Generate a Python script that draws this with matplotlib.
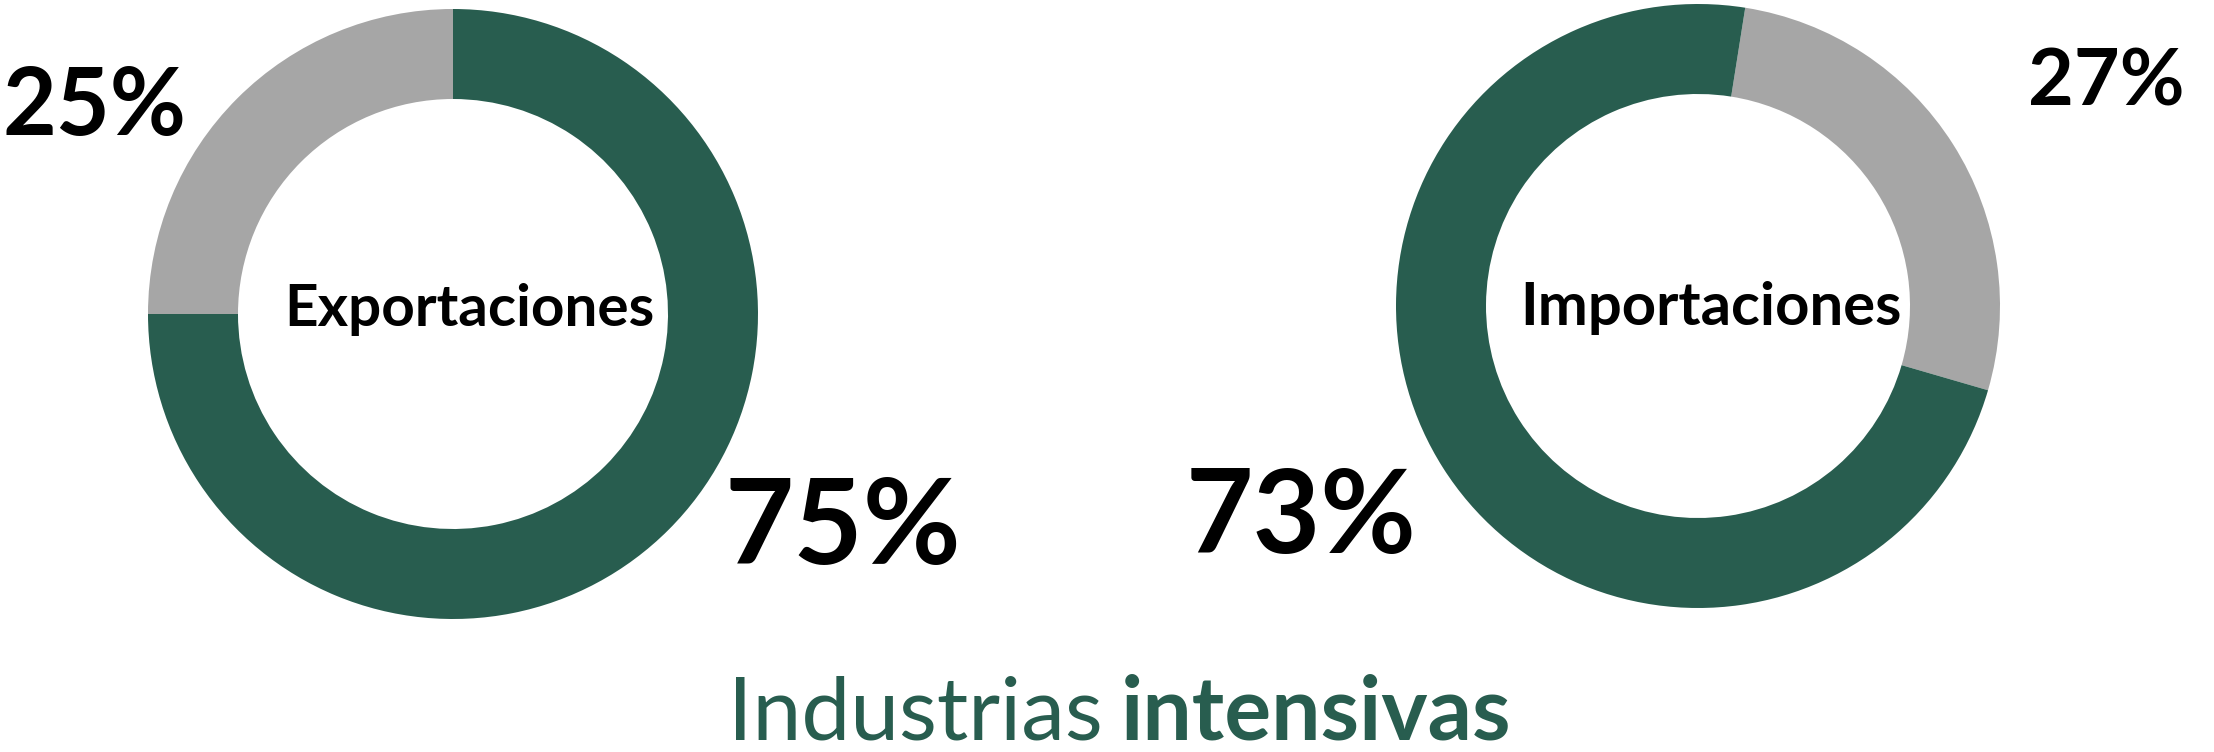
import matplotlib.pyplot as plt

# shares (percent)
export_labels = ["Intensivas", "Resto"]
export_shares = [75, 25]
import_labels = ["Resto", "Intensivas"]
import_shares = [27, 73]

GREEN = "#285d4f"
GRAY = "#a6a6a6"
FONT = ["Lato", "DejaVu Sans"]

W, H = 2214, 752
fig = plt.figure(figsize=(W / 100, H / 100), dpi=100)
ax = fig.add_axes([0, 0, 1, 1])

# left ring: exportaciones
ax.pie(export_shares, colors=[GREEN, GRAY], startangle=90, counterclock=False,
       center=(453, H - 314), radius=305,
       wedgeprops=dict(width=90, linewidth=0))
# right ring: importaciones
ax.pie(import_shares, colors=[GRAY, GREEN], startangle=81, counterclock=False,
       center=(1698, H - 306), radius=302,
       wedgeprops=dict(width=90, linewidth=0))

ax.set_xlim(0, W)
ax.set_ylim(0, H)
ax.set_aspect("equal")
ax.axis("off")

big = dict(family=FONT, weight="bold", color="black", ha="center", va="center")
ax.text(94, H - 108, f"{export_shares[1]}%", fontsize=67, **big)
ax.text(843, H - 530, f"{export_shares[0]}%", fontsize=86, **big)
ax.text(2106, H - 84, f"{import_shares[0]}%", fontsize=57, **big)
ax.text(1301, H - 520, f"{import_shares[1]}%", fontsize=84, **big)

ax.text(469, H - 310, "Exportaciones", fontsize=42, **big)
ax.text(1711, H - 308, "Importaciones", fontsize=43, **big)

ax.text(1103, 13, "Industrias", fontsize=63, family=FONT, color=GREEN,
        ha="right", va="baseline")
ax.text(1121, 13, "intensivas", fontsize=63, family=FONT, weight="bold",
        color=GREEN, ha="left", va="baseline")

fig.savefig("out.png", dpi=100, facecolor="white")
